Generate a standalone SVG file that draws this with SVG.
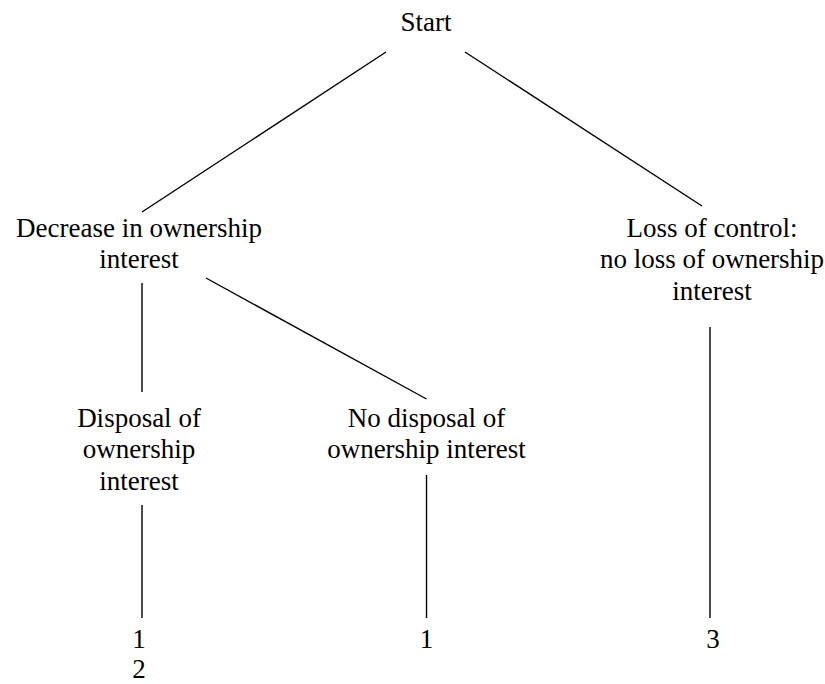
<svg xmlns="http://www.w3.org/2000/svg" width="825" height="684" viewBox="0 0 825 684">
<style>
.t{font-family:'Liberation Serif','Times New Roman',serif;font-size:27px;fill:#000;text-anchor:middle}
.c line{stroke:#000;stroke-width:1.4;fill:none}
</style>
<rect width="825" height="684" fill="#fff"/>
<g class="c" id="connectors">
<line x1="386" y1="52" x2="142" y2="212"/>
<line x1="465" y1="52" x2="702" y2="206"/>
<line x1="142" y1="283" x2="142" y2="392"/>
<line x1="206" y1="278" x2="426.5" y2="399"/>
<line x1="142" y1="505" x2="142" y2="618"/>
<line x1="426.5" y1="475" x2="426.5" y2="618"/>
<line x1="710" y1="327" x2="710" y2="618"/>
</g>
<g id="start" class="t"><text x="426" y="31">Start</text></g>
<g id="decrease" class="t"><text x="139" y="237">Decrease in ownership</text><text x="139" y="268">interest</text></g>
<g id="loss" class="t"><text x="712" y="237">Loss of control:</text><text x="712" y="268">no loss of ownership</text><text x="712" y="300">interest</text></g>
<g id="disposal" class="t"><text x="139" y="427">Disposal of</text><text x="139" y="458">ownership</text><text x="139" y="490">interest</text></g>
<g id="nodisposal" class="t"><text x="426.5" y="427">No disposal of</text><text x="426.5" y="458">ownership interest</text></g>
<g id="n1" class="t"><text x="139" y="648">1</text><text x="139" y="678">2</text></g>
<g id="n2" class="t"><text x="426.5" y="648">1</text></g>
<g id="n3" class="t"><text x="713" y="648">3</text></g>
</svg>
